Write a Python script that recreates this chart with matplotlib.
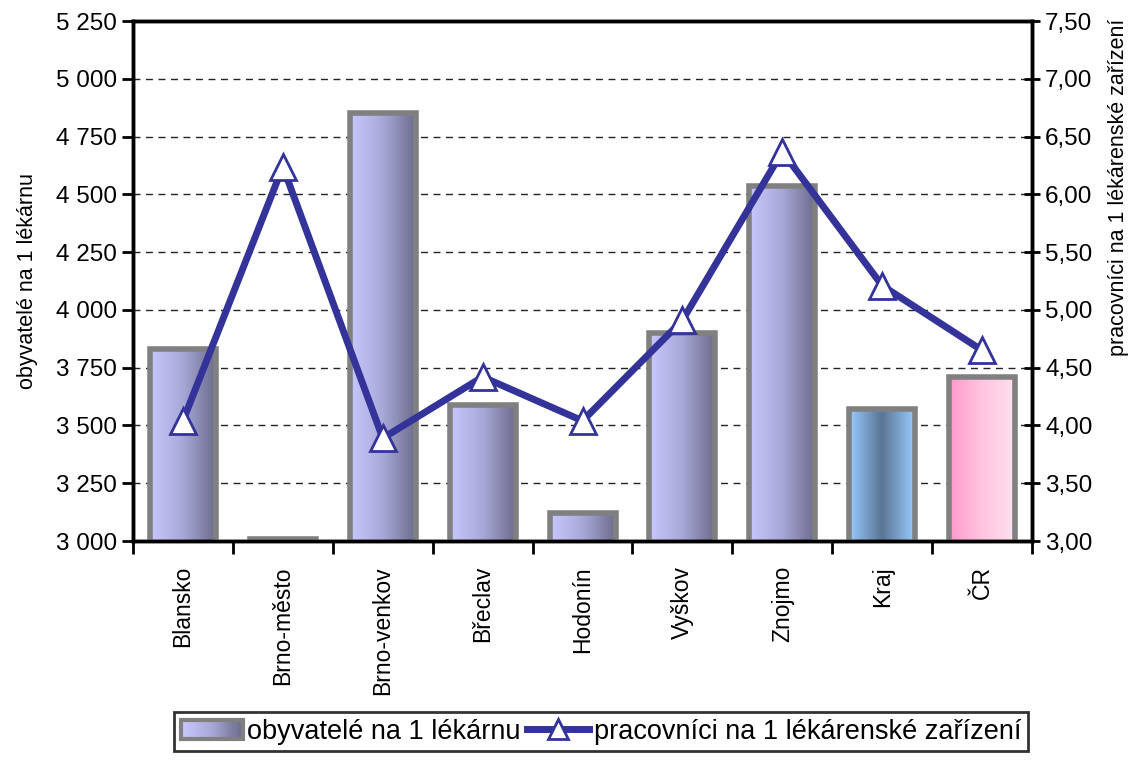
import matplotlib.pyplot as plt
import numpy as np
from matplotlib.colors import LinearSegmentedColormap
from matplotlib.legend_handler import HandlerBase
from matplotlib.lines import Line2D
from matplotlib.patches import Patch, Rectangle
from matplotlib.ticker import FuncFormatter, FixedLocator

plt.rcParams["font.family"] = ["Liberation Sans", "DejaVu Sans"]

districts = ["Blansko", "Brno-město", "Brno-venkov", "Břeclav", "Hodonín",
             "Vyškov", "Znojmo", "Kraj", "ČR"]
residents_per_pharmacy = [3830, 3008, 4850, 3590, 3120, 3900, 4535, 3570, 3710]
workers_per_pharmacy = [4.04, 6.24, 3.89, 4.42, 4.04, 4.91, 6.37, 5.21, 4.65]

bar_label = "obyvatelé na 1 lékárnu"
line_label = "pracovníci na 1 lékárenské zařízení"

# gradient for each bar (left -> right)
grad_default = ["#c8c8ff", "#a8a8d8", "#6c6c8c"]
grad_kraj = ["#99ccff", "#5a7494", "#99ccff"]
grad_cr = ["#ff99cc", "#ffc4e0", "#ffe0ee"]
gradients = [grad_default] * 7 + [grad_kraj, grad_cr]

line_color = "#333399"
edge_gray = "#808080"


class GradientHandler(HandlerBase):
    def create_artists(self, legend, orig, xd, yd, w, h, fontsize, trans):
        cmap = LinearSegmentedColormap.from_list("lg", grad_default)
        n = 30
        arts = []
        for i in range(n):
            arts.append(Rectangle((xd + w * i / n, yd), w / n + 0.3, h,
                                  facecolor=cmap(i / (n - 1)), edgecolor="none",
                                  transform=trans))
        arts.append(Rectangle((xd, yd), w, h, facecolor="none",
                              edgecolor=edge_gray, linewidth=3, transform=trans))
        return arts


fig = plt.figure(figsize=(11.4, 7.65), dpi=100)
ax = fig.add_axes([0.1167, 0.2928, 0.7886, 0.6797])
ax2 = ax.twinx()

x = np.arange(len(districts))
width = 0.66

bars = ax.bar(x, residents_per_pharmacy, width, bottom=0, color="none",
              edgecolor="none", zorder=2)
for b, cols in zip(bars, gradients):
    cmap = LinearSegmentedColormap.from_list("g", cols)
    bx, by = b.get_x(), b.get_y()
    bw, bh = b.get_width(), b.get_height()
    img = ax.imshow(np.linspace(0, 1, 256).reshape(1, -1), cmap=cmap,
                    extent=[bx, bx + bw, 3000, by + bh], aspect="auto",
                    zorder=2, interpolation="bicubic")
    img.set_clip_path(b)
ax.bar(x, residents_per_pharmacy, width, color="none", edgecolor=edge_gray,
       linewidth=4, zorder=3)

ax.set_xlim(-0.5, len(districts) - 0.5)
ax.set_ylim(3000, 5250)
ax.set_yticks(np.arange(3000, 5251, 250))
ax.yaxis.set_major_formatter(FuncFormatter(lambda v, p: f"{int(v):,}".replace(",", " ")))
ax.grid(axis="y", color="#222222", linestyle=(0, (5, 4)), linewidth=1, zorder=1)
ax.set_axisbelow(True)

ax.set_xticks(x)
ax.set_xticklabels(districts, rotation=90, fontsize=16.5)
ax.xaxis.set_minor_locator(FixedLocator(np.arange(-0.5, len(districts), 1)))
ax.tick_params(axis="x", which="major", length=0, pad=18)
ax.tick_params(axis="x", which="minor", length=9, width=2, direction="out")
ax.tick_params(axis="y", labelsize=17.5, length=8, width=2, direction="out")
ax.set_ylabel(bar_label, fontsize=15.5)
ax.yaxis.set_label_coords(-0.106, 0.5)

ax2.plot(x, workers_per_pharmacy, color=line_color, linewidth=5, marker="^",
         markersize=19, markerfacecolor="white", markeredgecolor=line_color,
         markeredgewidth=2, zorder=4)
ax2.set_ylim(3.0, 7.5)
ax2.set_yticks(np.arange(3.0, 7.51, 0.5))
ax2.yaxis.set_major_formatter(FuncFormatter(lambda v, p: f"{v:.2f}".replace(".", ",")))
ax2.tick_params(axis="y", labelsize=17.5, length=12, width=2, direction="inout")
ax2.set_ylabel(line_label, fontsize=15.5)
ax2.yaxis.set_label_coords(1.085, 0.68)

for a in (ax, ax2):
    for s in a.spines.values():
        s.set_linewidth(2.5)

handles = [Patch(label=bar_label),
           Line2D([0], [0], color=line_color, linewidth=5, marker="^",
                  markersize=14, markerfacecolor="white",
                  markeredgecolor=line_color, markeredgewidth=2)]
leg = fig.legend(handles, [bar_label, line_label], loc="lower center",
                 bbox_to_anchor=(0.527, 0.0), ncol=2, fontsize=19.5,
                 frameon=True, fancybox=False, edgecolor="black",
                 handlelength=2.3, handletextpad=0.15, columnspacing=0.25,
                 borderpad=0.25, handler_map={Patch: GradientHandler()})
leg.get_frame().set_linewidth(2)

fig.savefig("out.png", dpi=100)
